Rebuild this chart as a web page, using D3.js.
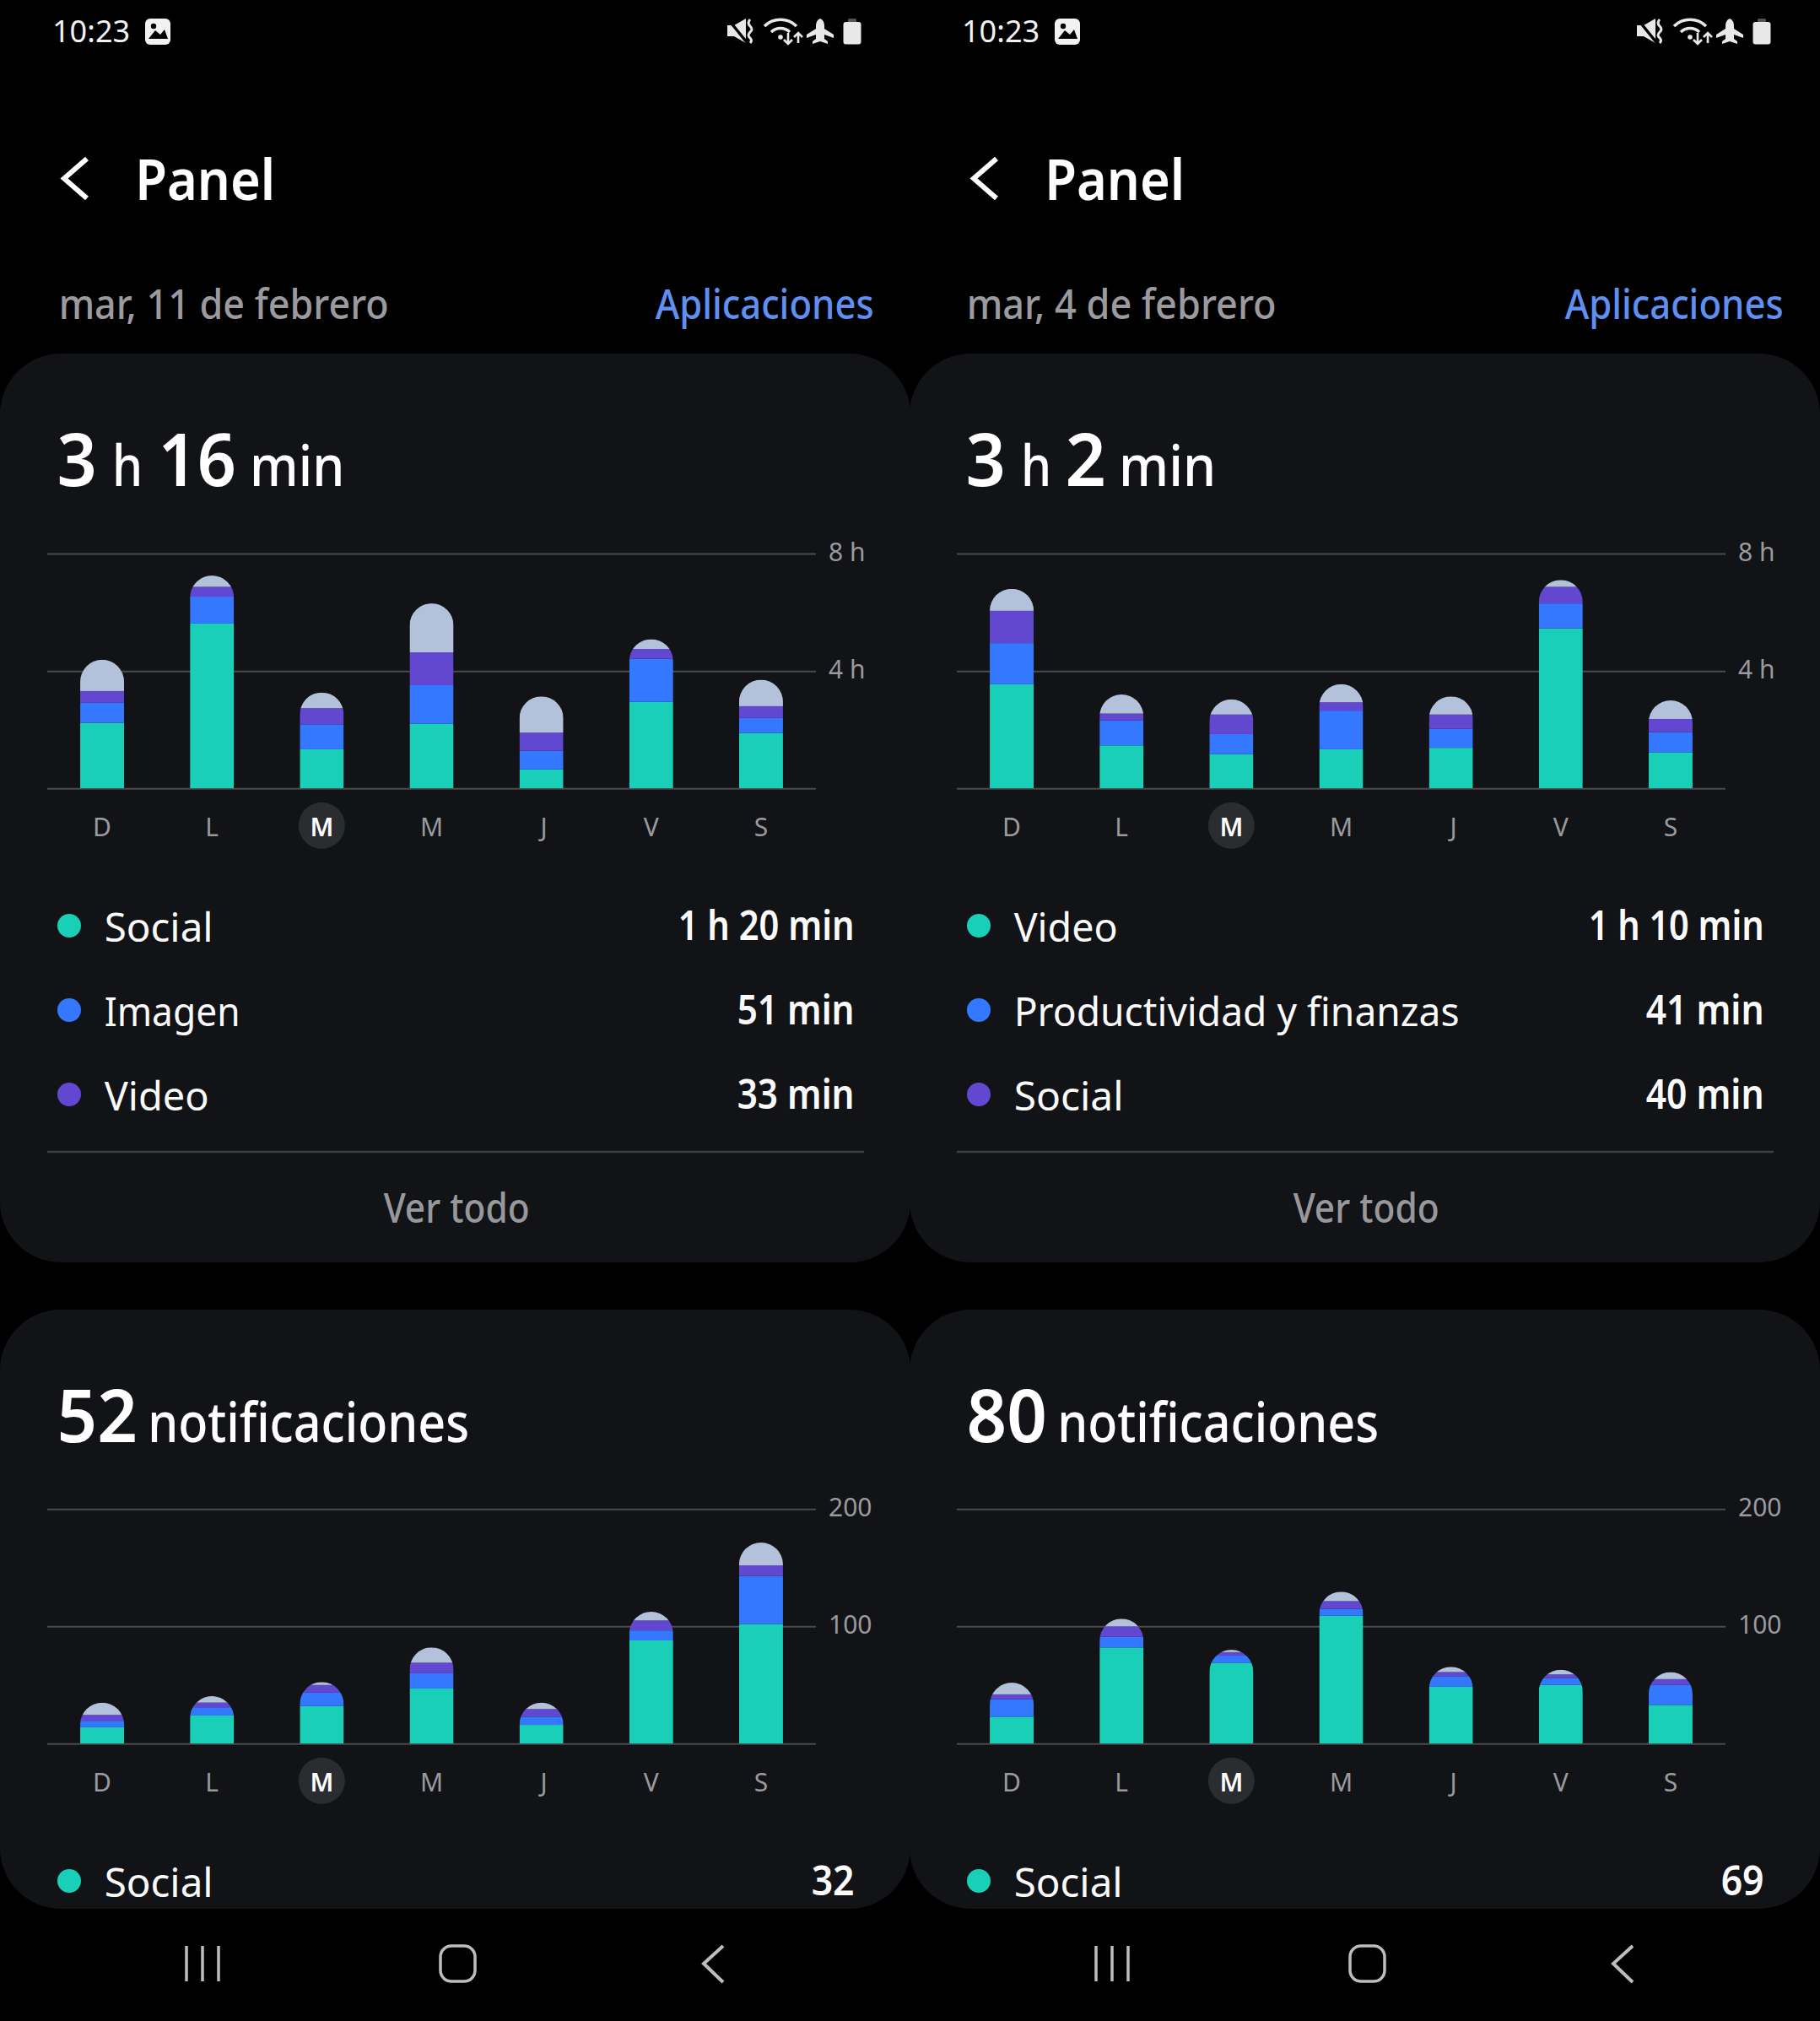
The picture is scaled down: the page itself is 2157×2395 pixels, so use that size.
<!DOCTYPE html>
<html><head><meta charset="utf-8">
<style>html,body{margin:0;padding:0;background:#000}svg{display:block}text{font-family:"Noto Sans",sans-serif}</style>
<script src="https://cdn.jsdelivr.net/npm/d3@7/dist/d3.min.js"></script>
</head><body><script>
// ---- data ----
const days = ["D","L","M","M","J","V","S"];
const colors = ["#19cfb7","#3478ff","#6248d0","#b3c1db"];
const timeTicks = [0,240,480];
const notifTicks = [0,100,200];

// minutes per day, week of 11 Feb
const timeA1 = [134,337,80,132,39,177,113];
const timeA2 = [41,55,51,79,38,88,31];
const timeA3 = [24,20,33,67,37,20,24];
const timeA4 = [64,23,32,100,74,20,54];
// minutes per day, week of 4 Feb
const timeB1 = [213,88,70,80,83,327,74];
const timeB2 = [84,51,41,79,39,51,41];
const timeB3 = [66,14,40,17,29,34,27];
const timeB4 = [45,39,31,37,37,14,38];
// notifications per day, week of 11 Feb
const notifA1 = [14,24,32,47,16,88,102];
const notifA2 = [5.5,7,11.5,13,7,8.5,41];
const notifA3 = [5,4,6.5,9,6.5,8.5,9];
const notifA4 = [10.5,5.5,2.5,13,5.5,7.5,19.5];
// notifications per day, week of 4 Feb
const notifB1 = [23,82,69,109,48.5,50,33];
const notifB2 = [15,9,6,6,9,6,17];
const notifB3 = [4,9,3,6.5,3.5,3,5];
const notifB4 = [10,6.5,2,8,4.5,4,6];

const dateLabels = ["mar, 11 de febrero","mar, 4 de febrero"];
const legendA = [["Social","1 h 20 min"],["Imagen","51 min"],["Video","33 min"]];
const legendB = [["Video","1 h 10 min"],["Productividad y finanzas","41 min"],["Social","40 min"]];

// ---- layout ----
const W = 2157, H = 2395, OFFSET = 1078;
const svg = d3.select("body").append("svg").attr("width",W).attr("height",H).attr("viewBox",`0 0 ${W} ${H}`);
svg.append("rect").attr("width",W).attr("height",H).attr("fill","#000");
const CARD = "#121316", GRID = "#4b4b4e", MUTED = "#9a9a9e", WHITE = "#fafafa";

// x and len describe the visible ink; side bearings of the font are compensated here
function t(g,str,x,y,size,fill,weight,len){
  const b = size*0.028;
  const e = g.append("text").attr("x",x-b).attr("y",y).attr("font-size",size).attr("fill",fill).attr("font-weight",weight||400).text(str);
  if(len) e.attr("textLength",len+2.2*b).attr("lengthAdjust","spacingAndGlyphs");
  return e;
}

let clipId = 0;
function chart(g,series,ticks,fmt,top,base){
  const x = d3.scaleBand().domain(d3.range(days.length)).range([56,967]).paddingInner(0.6).paddingOuter(0.3);
  const y = d3.scaleLinear().domain([0,ticks[2]]).range([base,top]);
  const rows = days.map((_,i)=>({i,a:series[0][i],b:series[1][i],c:series[2][i],d:series[3][i]}));
  const stack = d3.stack().keys(["a","b","c","d"])(rows);

  const yAxis = d3.axisRight(y).tickValues(ticks).tickSize(-(967-56)).tickPadding(15).tickFormat(v=>v===0?"":fmt(v));
  const ya = g.append("g").attr("transform","translate(967,0)").call(yAxis);
  ya.select(".domain").remove();
  ya.selectAll("line").attr("stroke",GRID).attr("stroke-width",2);
  ya.selectAll("text").attr("fill",MUTED).attr("font-size",30).attr("font-weight",400).attr("dy","0.27em").style("font-family",'"Noto Sans",sans-serif');

  const bw = x.bandwidth(), r = bw/2;
  rows.forEach(row=>{
    const id = "bar"+(clipId++);
    const x0 = x(row.i), total = row.a+row.b+row.c+row.d, yt = y(total);
    const p = d3.path();
    p.moveTo(x0,base);
    p.lineTo(x0,yt+r);
    p.arc(x0+r,yt+r,r,Math.PI,2*Math.PI);
    p.lineTo(x0+bw,base);
    p.closePath();
    g.append("clipPath").attr("id",id).append("path").attr("d",p.toString());
    const bar = g.append("g").attr("clip-path",`url(#${id})`);
    stack.forEach((s,k)=>{
      const v = s[row.i];
      bar.append("rect").attr("x",x0).attr("width",bw).attr("y",y(v[1])).attr("height",y(v[0])-y(v[1])).attr("fill",colors[k]);
    });
  });

  // highlighted day
  g.append("circle").attr("cx",x(2)+r).attr("cy",base+44).attr("r",27.5).attr("fill","#2b2c30");
  const xAxis = d3.axisBottom(x).tickSize(0).tickPadding(35).tickFormat(i=>days[i]);
  const xa = g.append("g").attr("transform",`translate(0,${base})`).call(xAxis);
  xa.select(".domain").remove();
  xa.selectAll("text").attr("fill",MUTED).attr("font-size",30).attr("font-weight",400).style("font-family",'"Noto Sans",sans-serif');
  xa.selectAll(".tick").filter(d=>d===2).select("text").attr("fill","#fff").attr("font-weight",600);
  xa.selectAll(".tick").filter(d=>days[d]==="J").select("text").attr("dx",3);
}

function icons(g){
  // gallery
  g.append("rect").attr("x",172).attr("y",22).attr("width",30).attr("height",31).attr("rx",6).attr("fill","#f2f2f2");
  g.append("circle").attr("cx",182).attr("cy",31).attr("r",3.2).attr("fill","#000");
  g.append("path").attr("d","M176 46 L184 36 L190 41 L195 35 L199 46 Z").attr("fill","#000");
  // mute
  g.append("path").attr("d","M862 30 H870 L884 22 V51 L870 43 H862 Z").attr("fill","#e8e8e8");
  g.append("path").attr("d","M863 23 L885 50").attr("stroke","#000").attr("stroke-width",3.5);
  g.append("path").attr("d","M889 23 q-4 4 0 8 q4 4 0 7 q-4 4 0 7 q3 3 0 6").attr("fill","none").attr("stroke","#e8e8e8").attr("stroke-width",3);
  // wifi
  const wifi = g.append("g").attr("fill","none").attr("stroke","#e8e8e8").attr("stroke-width",3.5);
  wifi.append("path").attr("d","M906 31 A27 27 0 0 1 944 31");
  wifi.append("path").attr("d","M914 38 A16 16 0 0 1 936 38");
  g.append("circle").attr("cx",925).attr("cy",44).attr("r",2.8).attr("fill","#e8e8e8");
  wifi.append("path").attr("d","M934 39 V52 M929 47 L934 52 L939 47").attr("stroke-width",2.6);
  wifi.append("path").attr("d","M946 51 V39 M941 44 L946 39 L951 44").attr("stroke-width",2.6);
  // plane
  g.append("path").attr("d","M972 22 Q977 24 977 31 V34 L988 41 V45 L977 41 V46 L981 49 V52 L972 49 L963 52 V49 L967 46 V41 L956 45 V41 L967 34 V31 Q967 24 972 22 Z").attr("fill","#e8e8e8");
  // battery
  g.append("rect").attr("x",1005).attr("y",22).attr("width",10).attr("height",6).attr("rx",1.5).attr("fill","#555");
  g.append("rect").attr("x",999.5).attr("y",26).attr("width",21).attr("height",26.5).attr("rx",3).attr("fill","#e8e8e8");
}

function cardPanel(g,o){
  // phone chrome
  t(g,"10:23",63,50,37,"#f2f2f2",400,90);
  icons(g);
  g.append("path").attr("d","M103 188 L76 211.5 L103 235").attr("fill","none").attr("stroke","#fff").attr("stroke-width",6);
  t(g,"Panel",162,237,66,"#fff",600,162);
  t(g,o.date,o.dateX,378,49,"#9b9b9f",500,o.dateLen);
  t(g,"Aplicaciones",778,378,49,"#5f8ff0",500,256);

  // usage card
  g.append("rect").attr("x",0).attr("y",419).attr("width",1079).attr("height",1077).attr("rx",72).attr("fill",CARD);
  o.title.forEach(p=>t(g,p[0],p[1],576,p[2],"#fff",p[2]>80?600:500,p[3]));
  chart(g,o.time,timeTicks,v=>`${v/60} h`,656,934.3);
  o.legend.forEach((row,i)=>{
    const cy = 1097+i*100;
    g.append("circle").attr("cx",82).attr("cy",cy).attr("r",14).attr("fill",colors[i]);
    t(g,row[0],125,cy+19,48,WHITE,400,o.legendLen[i]);
    t(g,row[1],1011-o.valueLen[i],cy+17,48,WHITE,600,o.valueLen[i]);
  });
  g.append("line").attr("x1",56).attr("x2",1024).attr("y1",1365).attr("y2",1365).attr("stroke","#3f3f42").attr("stroke-width",2.5);
  t(g,"Ver todo",456,1449,49,"#98989c",500,170);

  // notifications card
  g.append("rect").attr("x",0).attr("y",1552).attr("width",1079).attr("height",710).attr("rx",72).attr("fill",CARD);
  t(g,o.count,70,1709,87,"#fff",600,90);
  t(g,"notificaciones",177,1709,66,"#fff",500,377);
  chart(g,o.notif,notifTicks,v=>`${v}`,1788.3,2066.3);
  g.append("circle").attr("cx",82).attr("cy",2229).attr("r",14).attr("fill",colors[0]);
  t(g,"Social",125,2248,48,WHITE,400,126);
  t(g,o.last,1011-48,2246,48,WHITE,600,48);

  // nav bar
  const nav = g.append("g").attr("fill","none").attr("stroke","#bdbdbd").attr("stroke-width",3.5);
  [221,240,259].forEach(x=>nav.append("line").attr("x1",x).attr("x2",x).attr("y1",2306).attr("y2",2348));
  nav.append("rect").attr("x",522).attr("y",2306).attr("width",41).attr("height",42).attr("rx",13);
  nav.append("path").attr("d","M857 2306 L834 2327 L857 2349").attr("stroke-width",4);
}

cardPanel(svg.append("g"),{
  date:dateLabels[0],dateX:71,dateLen:388,
  title:[["3",70,87,42],["h",135,68,32],["16",190,87,87],["min",298,68,108]],
  time:[timeA1,timeA2,timeA3,timeA4],notif:[notifA1,notifA2,notifA3,notifA4],
  legend:legendA,legendLen:[126,158,121],valueLen:[206,136,136],count:"52",last:"32"
});
cardPanel(svg.append("g").attr("transform",`translate(${OFFSET},0)`),{
  date:dateLabels[1],dateX:69,dateLen:364,
  title:[["3",69,87,42],["h",134,68,32],["2",187,87,43],["min",250,68,111]],
  time:[timeB1,timeB2,timeB3,timeB4],notif:[notifB1,notifB2,notifB3,notifB4],
  legend:legendB,legendLen:[120,525,127],valueLen:[205,137,137],count:"80",last:"69"
});
</script></body></html>
